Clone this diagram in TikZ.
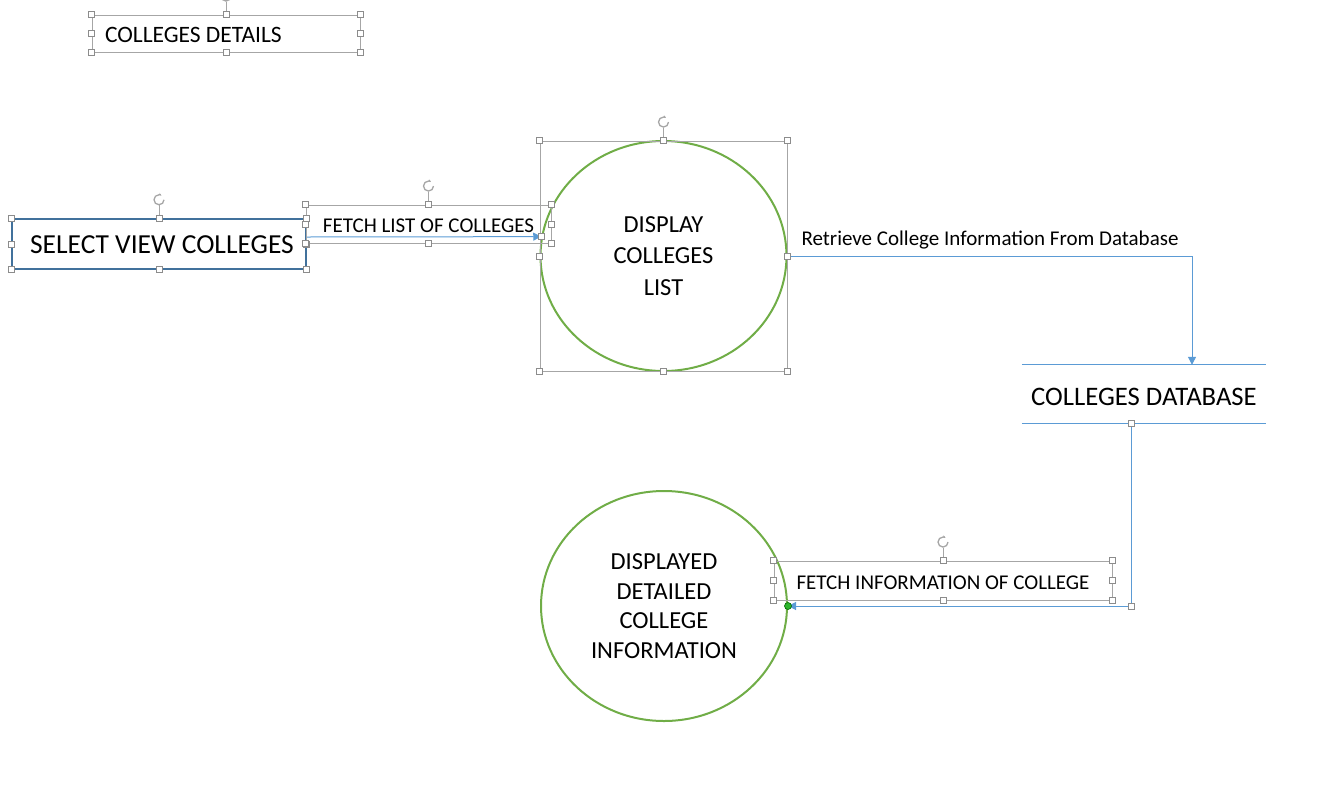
\documentclass[tikz,border=0pt]{standalone}
\usepackage{fontspec}
\setmainfont{Carlito}
\usetikzlibrary{positioning, shapes.geometric, arrows.meta, calc}
\definecolor{dfdgreen}{HTML}{70AD47}
\definecolor{dfdblue}{HTML}{5B9BD5}
\definecolor{boxblue}{HTML}{41719C}
\definecolor{hgray}{HTML}{8C8C8C}
\definecolor{fgray}{HTML}{A6A6A6}
\definecolor{dotgreen}{HTML}{2DB52D}

\tikzset{
  handle/.style={draw=hgray, fill=white, rectangle, minimum size=6pt, inner sep=0pt, line width=0.8pt},
  selframe/.style={draw=fgray, line width=0.9pt, rectangle, inner sep=0pt},
  flow/.style={-{Triangle[length=8pt,width=8pt]}, draw=dfdblue, line width=1pt},
  process/.style={ellipse, draw=dfdgreen, line width=2pt, inner sep=0pt,
                  minimum width=246pt, minimum height=230pt, align=center},
  lbl/.style={font=\fontsize{21}{25}\selectfont, text height=17.5pt, text depth=0pt},
}

\newcommand{\handles}[1]{%
  \foreach \a in {north west,north,north east,east,south east,south,south west,west}
    \node[handle] at (#1.\a) {};}
\newcommand{\rothandle}[1]{%
  \draw[fgray, line width=0.9pt] (#1.north) -- ++(0,-13) coordinate (rh);
  \draw[fgray, line width=1.3pt, -{Stealth[length=3pt]}] ($(rh)+(5,-5.5)$)
    arc[start angle=0, end angle=300, radius=5];}

\begin{document}
\begin{tikzpicture}[x=1pt, y=-1pt]
  \useasboundingbox (0,0) rectangle (1344,801);

  % title and external entity
  \node[selframe, minimum width=268pt, minimum height=37pt, text height=17pt, text depth=0pt,
        font=\fontsize{23.5}{28}\selectfont] (details) at (226,33.5) {\makebox[242pt][l]{COLLEGES DETAILS}};
  \node[draw=boxblue, line width=1.5pt, minimum width=294pt, minimum height=50pt, inner sep=0pt,
        text height=19.5pt, text depth=0pt,
        font=\fontsize{27.5}{33}\selectfont] (select) at (159,244) {\hspace{6pt}SELECT VIEW COLLEGES};

  % processes
  \node[process, font=\fontsize{24.5}{31.5}\selectfont] (disp) at (663.5,256) {DISPLAY\\COLLEGES\\LIST};
  \node[selframe, minimum width=247pt, minimum height=230pt] (dispfr) at (disp) {};
  \node[process, font=\fontsize{24.5}{29.5}\selectfont] (info) at (664,606)
       {DISPLAYED\\DETAILED\\COLLEGE\\INFORMATION};

  % data store
  \node[minimum width=244pt, minimum height=58pt, inner sep=0pt, text height=23pt, text depth=0pt,
        font=\fontsize{26.7}{32}\selectfont] (db) at (1144,394) {COLLEGES DATABASE};
  \draw[dfdblue, line width=1pt] (db.north west) -- (db.north east) (db.south west) -- (db.south east);

  % flow labels
  \node[selframe, lbl, minimum width=245pt, minimum height=38pt] (fetchlist) at (428.5,224) {FETCH LIST OF COLLEGES};
  \node[lbl] (retrieve) at (990,237) {Retrieve College Information From Database};
  \node[selframe, lbl, minimum width=338pt, minimum height=39pt] (fetchinfo) at (943,580.5) {FETCH INFORMATION OF COLLEGE};

  % flows
  \coordinate (selout) at ($(select.east)+(0,-7)$);
  \coordinate (dbin) at ($(db.north)+(48,0)$);
  \coordinate (dbout) at ($(db.south)+(-13,0)$);
  \draw[flow] (selout) -- (disp.171);
  \draw[flow] (disp.east) -| (dbin);
  \draw[flow] (dbout) |- (info.east);

  % selection handles
  \foreach \n in {details, select, fetchlist, dispfr, fetchinfo}
    \rothandle{\n};
  \foreach \n in {details, select, fetchlist, dispfr, fetchinfo}
    \handles{\n};
  \node[handle] at (disp.171) {};
  \node[handle] at (dbout) {};
  \node[handle] at (dbout |- info.east) {};
  \node[circle, fill=dotgreen, draw=green!40!black, line width=0.6pt, minimum size=7pt, inner sep=0pt] at (info.east) {};
\end{tikzpicture}
\end{document}
